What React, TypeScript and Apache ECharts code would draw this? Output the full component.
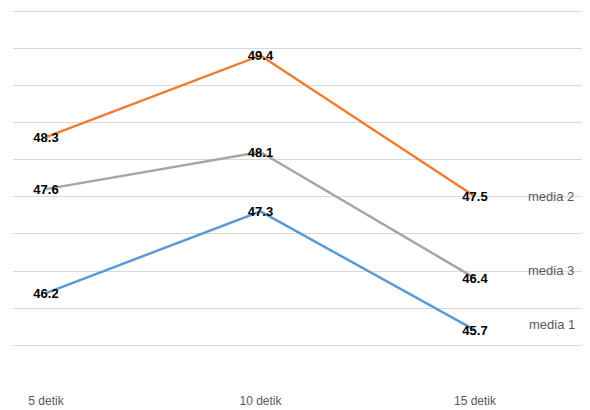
import React, { useEffect, useRef } from "react";
import * as echarts from "echarts";

// Durations on the x axis
const categories = ["5 detik", "10 detik", "15 detik"];

// Series values
const media1 = [46.2, 47.3, 45.7];
const media2 = [48.3, 49.4, 47.5];
const media3 = [47.6, 48.1, 46.4];

const seriesNames = ["media 1", "media 2", "media 3"];
const seriesColors = ["#5B9BD5", "#ED7D31", "#A5A5A5"];

// Value range shown by the gridlines
const yMin = 45.5;
const yMax = 50;
const yStep = 0.5;

const FONT = "'Liberation Sans', 'DejaVu Sans', sans-serif";

export default function App() {
  const ref = useRef<HTMLDivElement>(null);

  useEffect(() => {
    document.body.style.margin = "0";
    if (!ref.current) return;
    const chart = echarts.init(ref.current, undefined, { renderer: "svg" });

    const values = [media1, media2, media3];
    const endOffsets: [number, number][] = [
      [46, -6],
      [45, 0],
      [45, -8],
    ];

    const option: echarts.EChartsOption = {
      animation: false,
      backgroundColor: "#ffffff",
      grid: [
        // full-width grid carrying the horizontal gridlines
        { left: 13, right: 8, top: 11, height: 334 },
        // inner grid where the series are plotted
        { left: 46, right: 115, top: 11, height: 334 },
      ],
      xAxis: [
        {
          gridIndex: 0,
          type: "category",
          data: categories,
          show: false,
        },
        {
          gridIndex: 1,
          type: "category",
          data: categories,
          boundaryGap: false,
          axisLine: { show: false },
          axisTick: { show: false },
          splitLine: { show: false },
          axisLabel: {
            margin: 50,
            color: "#595959",
            fontSize: 12,
            fontFamily: FONT,
          },
        },
      ],
      yAxis: [
        {
          gridIndex: 0,
          type: "value",
          min: yMin,
          max: yMax,
          interval: yStep,
          axisLine: { show: false },
          axisTick: { show: false },
          axisLabel: { show: false },
          splitLine: { show: true, lineStyle: { color: "#d9d9d9", width: 1 } },
        },
        {
          gridIndex: 1,
          type: "value",
          min: yMin,
          max: yMax,
          interval: yStep,
          show: false,
          splitLine: { show: false },
        },
      ],
      series: values.map((data, i) => ({
        name: seriesNames[i],
        type: "line" as const,
        xAxisIndex: 1,
        yAxisIndex: 1,
        data,
        showSymbol: true,
        symbol: "circle",
        symbolSize: 0,
        lineStyle: { color: seriesColors[i], width: 2.5 },
        itemStyle: { color: seriesColors[i] },
        label: {
          show: true,
          position: "inside" as const,
          color: "#000000",
          fontSize: 13,
          fontWeight: "bold" as const,
          fontFamily: FONT,
          formatter: (p: any) => Number(p.value).toFixed(1),
        },
        endLabel: {
          show: true,
          formatter: "{a}",
          color: "#595959",
          fontSize: 13,
          fontFamily: FONT,
          offset: endOffsets[i],
        },
        z: 3 + i,
      })),
    };

    chart.setOption(option);
    return () => chart.dispose();
  }, []);

  return <div ref={ref} style={{ width: 590, height: 410 }} />;
}
